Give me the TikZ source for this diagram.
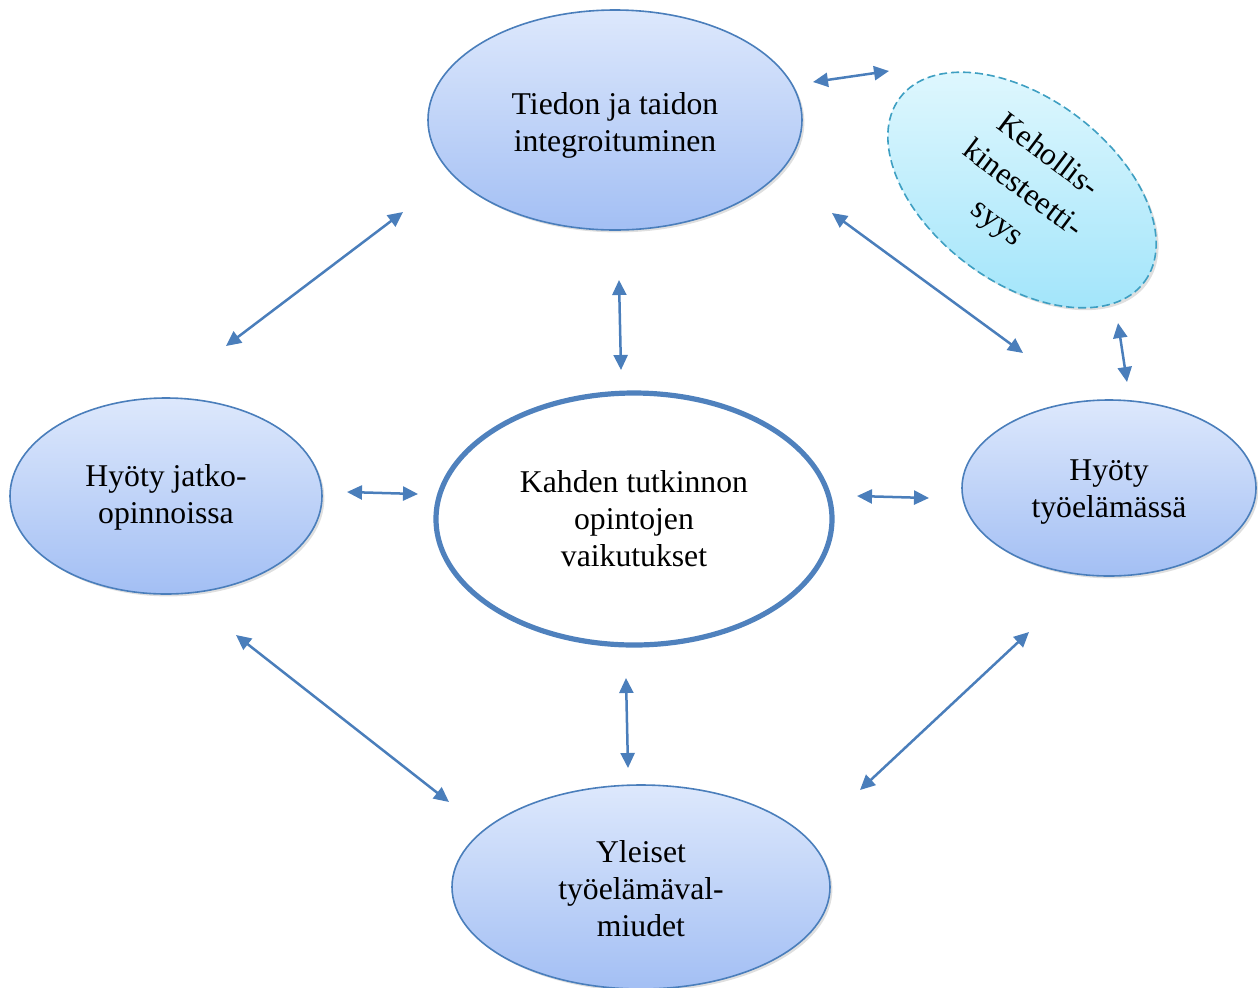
\documentclass[tikz,border=0pt]{standalone}
\usepackage{fontspec}
\setmainfont{Liberation Serif}
\usetikzlibrary{shapes.geometric,arrows.meta,shadows}
\definecolor{edgeblue}{HTML}{4A7EBB}
\definecolor{ringblue}{HTML}{4F81BD}
\definecolor{bluetop}{HTML}{DDE8FC}
\definecolor{bluebot}{HTML}{A3BFF4}
\definecolor{cyantop}{HTML}{E2F8FE}
\definecolor{cyanbot}{HTML}{9FE4FA}
\definecolor{dashteal}{HTML}{3E9FC2}
\tikzset{
  label font/.style={font=\fontsize{15.85}{18.5}\selectfont},
  bubble/.style={ellipse, draw=edgeblue, line width=0.8pt, top color=bluetop,
    bottom color=bluebot, inner sep=0pt, align=center, label font,
    drop shadow={opacity=0.25, shadow xshift=1.2pt, shadow yshift=-1.2pt}},
  hub/.style={ellipse, draw=ringblue, line width=2.6pt, fill=white,
    inner sep=0pt, align=center, label font},
  cloud/.style={ellipse, draw=dashteal, line width=0.8pt,
    dash pattern=on 4pt off 2pt, top color=cyantop, bottom color=cyanbot,
    inner sep=0pt, align=center, font=\fontsize{15.85}{21}\selectfont,
    drop shadow={opacity=0.25, shadow xshift=1.2pt, shadow yshift=-1.2pt}},
  link/.style={draw=edgeblue, line width=1.25pt,
    {Triangle[length=7.5pt,width=7pt]}-{Triangle[length=7.5pt,width=7pt]}}
}
\begin{document}
\begin{tikzpicture}[x=0.5pt,y=-0.5pt]
\useasboundingbox (0,0) rectangle (1258,987);

% ellipses (text height lowers the text block a little inside each ellipse)
\node[bubble, text height=35.3pt, minimum width=187pt, minimum height=110pt] (tiedon) at (615,120)
  {Tiedon ja taidon\\integroituminen};
\node[cloud, rotate=-37, minimum width=153pt, minimum height=92pt] (keho) at (1022,190)
  {Kehollis-\\kinesteetti-\\syys};
\node[hub, minimum width=198pt, minimum height=126pt] (vaik) at (634,519)
  {Kahden tutkinnon\\opintojen\\vaikutukset};
\node[bubble, text height=31.3pt, minimum width=156pt, minimum height=98pt] (jatko) at (166,496)
  {Hyöty jatko-\\opinnoissa};
\node[bubble, text height=33.3pt, minimum width=147pt, minimum height=88pt] (tyo) at (1109,488)
  {Hyöty\\työelämässä};
\node[bubble, text height=49.8pt, minimum width=189pt, minimum height=102pt] (yleis) at (641,887)
  {Yleiset\\työelämäval-\\miudet};

% arrow end points
\coordinate (a1) at (403,212);  \coordinate (b1) at (226,346);
\coordinate (a2) at (619,280);  \coordinate (b2) at (621,370);
\coordinate (a3) at (832,213);  \coordinate (b3) at (1023,353);
\coordinate (a4) at (813,82);   \coordinate (b4) at (889,71);
\coordinate (a5) at (1118,323); \coordinate (b5) at (1127,382);
\coordinate (a6) at (347,492);  \coordinate (b6) at (418,494);
\coordinate (a7) at (857,496);  \coordinate (b7) at (929,498);
\coordinate (a8) at (236,635);  \coordinate (b8) at (449,802);
\coordinate (a9) at (626,678);  \coordinate (b9) at (628,768);
\coordinate (a10) at (1029,632); \coordinate (b10) at (860,790);

% connectors
\foreach \i in {1,...,10} \draw[link] (a\i) -- (b\i);
\end{tikzpicture}
\end{document}
